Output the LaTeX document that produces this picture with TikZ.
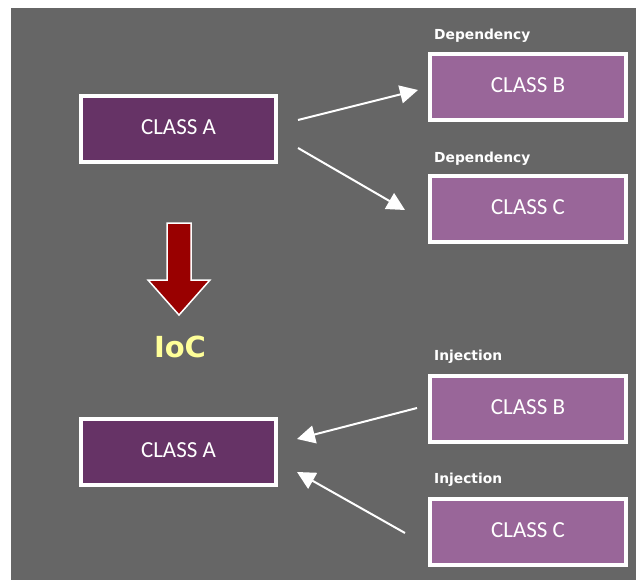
\documentclass[tikz,border=0pt]{standalone}
\usepackage{fontspec}
\setmainfont{DejaVu Sans}
\newfontfamily\boxfont{Carlito}
\usetikzlibrary{positioning,arrows.meta}
\definecolor{bggray}{HTML}{666666}
\definecolor{darkplum}{HTML}{663366}
\definecolor{lightplum}{HTML}{996699}
\definecolor{ioccol}{HTML}{FFFF99}
\definecolor{iocred}{HTML}{990000}

\begin{document}
\begin{tikzpicture}[x=1pt, y=-1pt,
    clsbox/.style={draw=white, line width=4pt, inner sep=0pt, outer sep=0pt,
        minimum width=195pt, minimum height=66pt, text=white,
        text height=15pt, text depth=4pt,
        font=\boxfont\fontsize{23}{27}\selectfont},
    clsA/.style={clsbox, fill=darkplum},
    clsB/.style={clsbox, fill=lightplum, minimum width=196pt},
    tag/.style={anchor=base west, inner sep=0pt, text=white,
        font=\bfseries\fontsize{13.8}{16}\selectfont},
    link/.style={draw=white, line width=2pt,
        -{Triangle[length=18pt, width=18pt]}}]
% Background
\fill[white] (0,0) rectangle (636,580);
\fill[bggray] (11,8) rectangle (636,580);
\useasboundingbox (0,0) rectangle (636,580);

% Before IoC
\node[clsA] (topA) at (178.5,129) {CLASS A};
\node[clsB] (topB) at (528,87) {CLASS B};
\node[clsB] (topC) at (528,209) {CLASS C};
\node[tag] (depB) at (434,40) {Dependency};
\node[tag] (depC) at (434,162) {Dependency};
\draw[link] ([shift={(22,-9)}]topA.east) -- ([shift={(-12,3)}]topB.west);
\draw[link] ([shift={(22,19)}]topA.east) -- ([shift={(-25,1)}]topC.west);

% IoC arrow
\draw[fill=iocred, draw=white, line width=1.5pt, line join=miter]
    (167,223) -- (191,223) -- (191,280) -- (210,280) -- (179,315)
    -- (148,280) -- (167,280) -- cycle;
\node[text=ioccol, font=\bfseries\fontsize{29}{32}\selectfont] (ioc) at (180,347) {IoC};

% After IoC
\node[clsA] (botA) at (178.5,452) {CLASS A};
\node[clsB] (botB) at (528,409) {CLASS B};
\node[clsB] (botC) at (528,532) {CLASS C};
\node[tag] (injB) at (434,360) {Injection};
\node[tag] (injC) at (434,483) {Injection};
\draw[link] ([shift={(-13,-1)}]botB.west) -- ([shift={(21,-13)}]botA.east);
\draw[link] ([shift={(-25,1)}]botC.west) -- ([shift={(21,20)}]botA.east);
\end{tikzpicture}
\end{document}
